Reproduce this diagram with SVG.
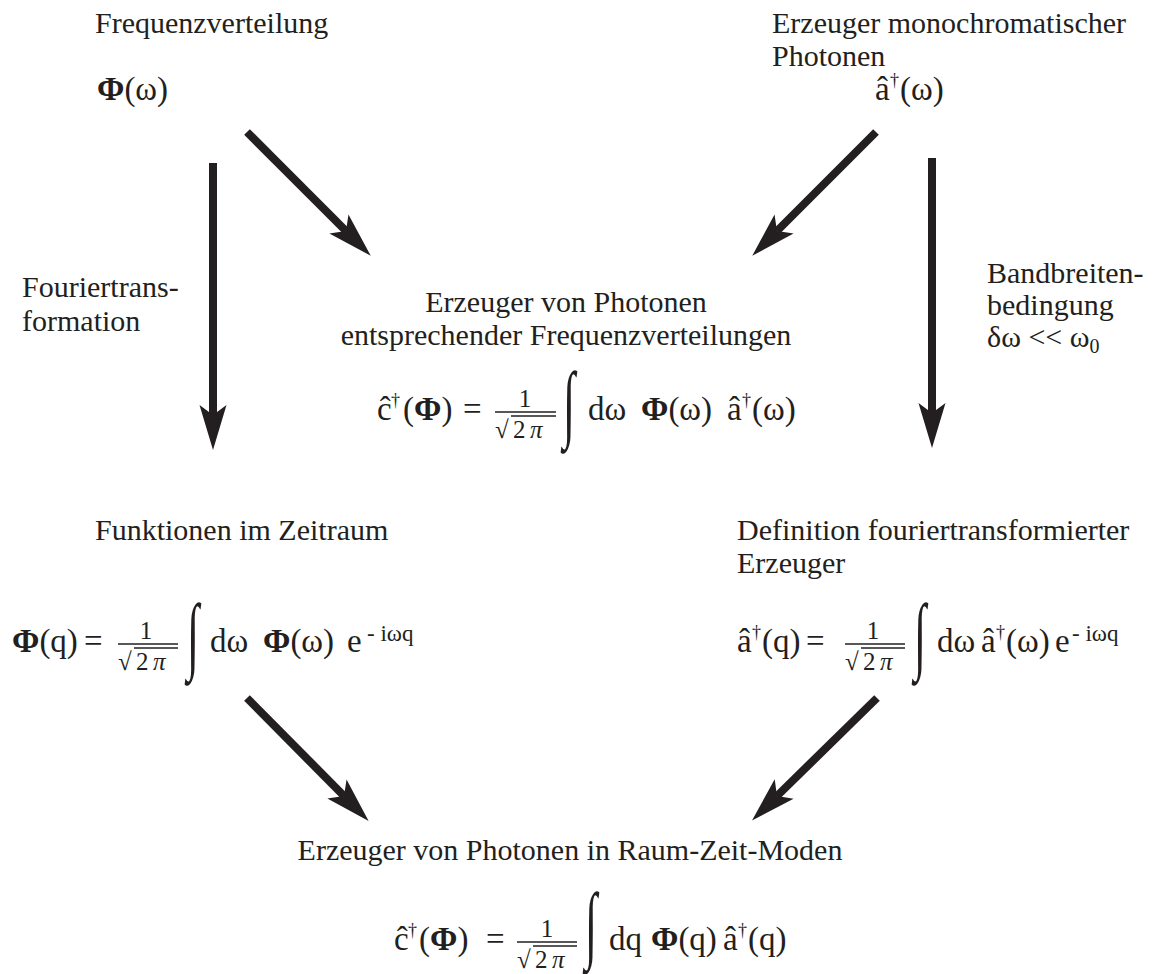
<svg xmlns="http://www.w3.org/2000/svg" width="1153" height="974" viewBox="0 0 1153 974">
<style>
text{font-family:"Liberation Serif","Times New Roman",serif;fill:#231f20}
.t{font-size:30px}
.f{font-size:33px}
.b{font-weight:bold}
.sup{font-size:18px}
.ex{font-size:23px}
.fr{font-size:25px}
.int{font-size:85px}
.ln{stroke:#231f20;stroke-width:8;fill:none}
.bar{stroke:#231f20;stroke-width:1.6}
</style>
<defs>
<marker id="ah" markerUnits="userSpaceOnUse" markerWidth="50" markerHeight="30" refX="10" refY="0" orient="auto" overflow="visible">
<path d="M45,0 L0,-13.5 L10,0 L0,13.5 Z" fill="#231f20"/>
</marker>
</defs>
<rect width="1153" height="974" fill="#fff"/>
<g id="connectors">
<line class="ln" x1="213" y1="163" x2="213" y2="415" marker-end="url(#ah)"/>
<line class="ln" x1="932" y1="158" x2="932" y2="413" marker-end="url(#ah)"/>
<line class="ln" x1="247" y1="132" x2="346" y2="231" marker-end="url(#ah)"/>
<line class="ln" x1="876" y1="132" x2="777" y2="231" marker-end="url(#ah)"/>
<line class="ln" x1="247" y1="698" x2="344" y2="796" marker-end="url(#ah)"/>
<line class="ln" x1="877" y1="698" x2="777" y2="796" marker-end="url(#ah)"/>
</g>
<g id="n-freq">
<text class="t" x="95" y="33">Frequenzverteilung</text>
<text class="f" x="97" y="100"><tspan class="b">Φ</tspan>(ω)</text>
</g>
<g id="n-mono">
<text class="t" x="772" y="33">Erzeuger monochromatischer</text>
<text class="t" x="772" y="66">Photonen</text>
<text class="f" x="875" y="100">â</text>
<text class="sup" x="890" y="86">†</text>
<text class="f" x="900" y="100">(ω)</text>
</g>
<g id="l-fourier">
<text class="t" x="22" y="297">Fouriertrans-</text>
<text class="t" x="22" y="331">formation</text>
</g>
<g id="l-band">
<text class="t" x="987" y="283">Bandbreiten-</text>
<text class="t" x="987" y="315">bedingung</text>
<text class="t" x="987" y="347">δω &lt;&lt; ω<tspan font-size="20" dy="6">0</tspan></text>
</g>
<g id="n-center">
<text class="t" x="566" y="312" text-anchor="middle">Erzeuger von Photonen</text>
<text class="t" x="566" y="345" text-anchor="middle">entsprechender Frequenzverteilungen</text>
<text class="f" x="377" y="420">ĉ</text>
<text class="sup" x="391" y="406">†</text>
<text class="f" x="403" y="420">(<tspan class="b">Φ</tspan>)</text>
<text class="f" x="463" y="420">=</text>
<line class="bar" x1="495" y1="412" x2="556" y2="412"/>
<line class="bar" x1="511" y1="416" x2="556" y2="416"/>
<text class="fr" x="525" y="407" text-anchor="middle">1</text>
<text class="fr" x="495" y="438">√<tspan x="513">2</tspan><tspan x="530" font-style="italic">π</tspan></text>
<text class="int" transform="translate(563,431) scale(0.52,1)">∫</text>
<text class="f" x="588" y="420">dω</text>
<text class="f" x="641" y="420"><tspan class="b">Φ</tspan>(ω)</text>
<text class="f" x="727" y="420">â</text>
<text class="sup" x="742" y="406">†</text>
<text class="f" x="752" y="420">(ω)</text>
</g>
<g id="n-zeit">
<text class="t" x="95" y="540">Funktionen im Zeitraum</text>
<text class="f" x="12" y="652"><tspan class="b">Φ</tspan>(q)</text>
<text class="f" x="84" y="652">=</text>
<line class="bar" x1="118" y1="644" x2="178" y2="644"/>
<line class="bar" x1="134" y1="648" x2="178" y2="648"/>
<text class="fr" x="146" y="639" text-anchor="middle">1</text>
<text class="fr" x="118" y="670">√<tspan x="136">2</tspan><tspan x="153" font-style="italic">π</tspan></text>
<text class="int" transform="translate(187,663) scale(0.52,1)">∫</text>
<text class="f" x="210" y="652">dω</text>
<text class="f" x="263" y="652"><tspan class="b">Φ</tspan>(ω)</text>
<text class="f" x="347" y="652">e</text>
<text class="ex" x="367" y="641">- iωq</text>
</g>
<g id="n-def">
<text class="t" x="737" y="540">Definition fouriertransformierter</text>
<text class="t" x="737" y="573">Erzeuger</text>
<text class="f" x="737" y="652">â</text>
<text class="sup" x="752" y="638">†</text>
<text class="f" x="762" y="652">(q)</text>
<text class="f" x="806" y="652">=</text>
<line class="bar" x1="845" y1="644" x2="905" y2="644"/>
<line class="bar" x1="861" y1="648" x2="905" y2="648"/>
<text class="fr" x="873" y="639" text-anchor="middle">1</text>
<text class="fr" x="845" y="670">√<tspan x="863">2</tspan><tspan x="880" font-style="italic">π</tspan></text>
<text class="int" transform="translate(914,663) scale(0.52,1)">∫</text>
<text class="f" x="937" y="652">dω</text>
<text class="f" x="981" y="652">â</text>
<text class="sup" x="996" y="638">†</text>
<text class="f" x="1006" y="652">(ω)</text>
<text class="f" x="1055" y="652">e</text>
<text class="ex" x="1072" y="641">- iωq</text>
</g>
<g id="n-raumzeit">
<text class="t" x="570" y="860" text-anchor="middle">Erzeuger von Photonen in Raum-Zeit-Moden</text>
<text class="f" x="394" y="950">ĉ</text>
<text class="sup" x="408" y="936">†</text>
<text class="f" x="419" y="950">(<tspan class="b">Φ</tspan>)</text>
<text class="f" x="486" y="950">=</text>
<line class="bar" x1="517" y1="942" x2="577" y2="942"/>
<line class="bar" x1="533" y1="946" x2="577" y2="946"/>
<text class="fr" x="547" y="937" text-anchor="middle">1</text>
<text class="fr" x="517" y="968">√<tspan x="535">2</tspan><tspan x="552" font-style="italic">π</tspan></text>
<text class="int" transform="translate(585,952) scale(0.52,1)">∫</text>
<text class="f" x="609" y="950">dq</text>
<text class="f" x="651" y="950"><tspan class="b">Φ</tspan>(q)</text>
<text class="f" x="723" y="950">â</text>
<text class="sup" x="738" y="936">†</text>
<text class="f" x="748" y="950">(q)</text>
</g>
</svg>
